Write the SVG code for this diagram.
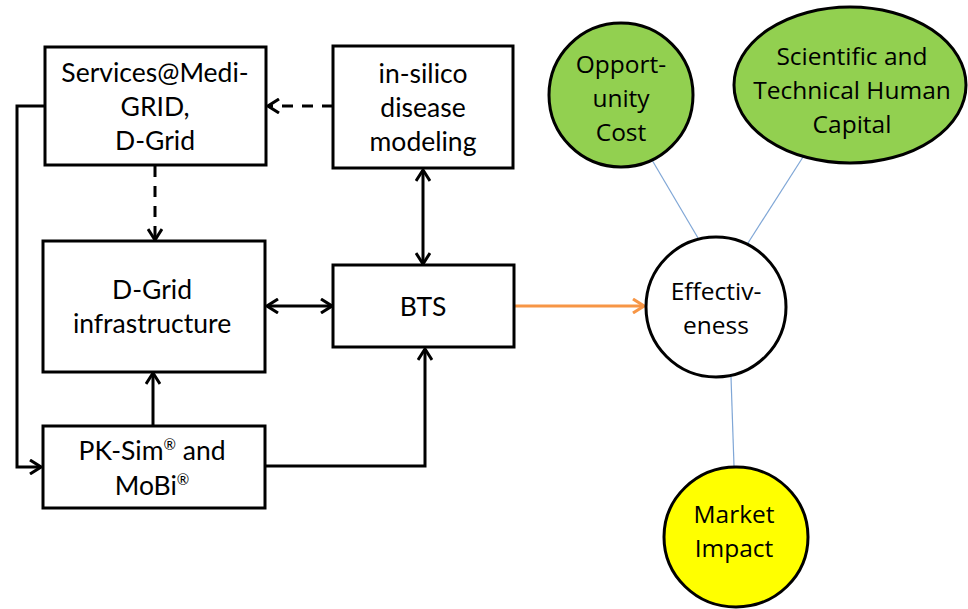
<svg xmlns="http://www.w3.org/2000/svg" width="968" height="609" viewBox="0 0 968 609">
<style>
.box{fill:#fff;stroke:#000;stroke-width:3}
.t{font-family:Lato,"Liberation Sans",sans-serif;font-size:26.5px;fill:#000;text-anchor:middle}
.e{font-family:"Open Sans","DejaVu Sans",sans-serif;font-size:24.5px;fill:#000;text-anchor:middle}
.c{fill:none;stroke:#000;stroke-width:3}
.d{fill:none;stroke:#000;stroke-width:3;stroke-dasharray:11 9}
.b{fill:none;stroke:#7fa6d6;stroke-width:1.2}
.sup{font-size:15px}
</style>
<defs>
<marker id="a" viewBox="0 0 13 16" refX="12" refY="8" markerWidth="13" markerHeight="16" markerUnits="userSpaceOnUse" orient="auto-start-reverse">
<path d="M1,1 L12,8 L1,15" fill="none" stroke="#000" stroke-width="3"/>
</marker>
<marker id="o" viewBox="0 0 13 16" refX="12" refY="8" markerWidth="13" markerHeight="16" markerUnits="userSpaceOnUse" orient="auto">
<path d="M1,1 L12,8 L1,15" fill="none" stroke="#f79646" stroke-width="3"/>
</marker>
</defs>
<g id="connectors">
<path class="c" d="M45,106 H17 V467 H41" marker-end="url(#a)"/>
<path class="d" d="M333,106 H268" marker-end="url(#a)"/>
<path class="d" d="M155,166 V240" marker-end="url(#a)"/>
<path class="c" d="M423,170 V264" marker-start="url(#a)" marker-end="url(#a)"/>
<path class="c" d="M267,306 H332" marker-start="url(#a)" marker-end="url(#a)"/>
<path class="c" d="M153,426 V373" marker-end="url(#a)"/>
<path class="c" d="M265,466 H425 V349" marker-end="url(#a)"/>
<path d="M515,306 H644" fill="none" stroke="#f79646" stroke-width="3" marker-end="url(#o)"/>
<path class="b" d="M652,160 L698,238"/>
<path class="b" d="M803,157 L748,243"/>
<path class="b" d="M731,377 L734,466"/>
</g>
<g id="services">
<rect class="box" x="45" y="47" width="221" height="118"/>
<text class="t" x="155" y="82">Services@Medi-</text>
<text class="t" x="155" y="116">GRID,</text>
<text class="t" x="155" y="150">D-Grid</text>
</g>
<g id="insilico">
<rect class="box" x="333" y="46" width="180" height="122"/>
<text class="t" x="423" y="83">in-silico</text>
<text class="t" x="423" y="117">disease</text>
<text class="t" x="423" y="151">modeling</text>
</g>
<g id="dgrid">
<rect class="box" x="43" y="241" width="222" height="131"/>
<text class="t" x="152" y="299">D-Grid</text>
<text class="t" x="152" y="333">infrastructure</text>
</g>
<g id="bts">
<rect class="box" x="333" y="265" width="181" height="82"/>
<text class="t" x="423" y="316">BTS</text>
</g>
<g id="pksim">
<rect class="box" x="43" y="426" width="222" height="82"/>
<text class="t" x="152" y="460">PK-Sim<tspan class="sup" dy="-10">®</tspan><tspan dy="10"> and</tspan></text>
<text class="t" x="152" y="495">MoBi<tspan class="sup" dy="-10">®</tspan></text>
</g>
<g id="opportunity">
<ellipse cx="621" cy="95" rx="72" ry="72" fill="#92d050" stroke="#000" stroke-width="3"/>
<text class="e" x="621" y="73">Opport-</text>
<text class="e" x="621" y="107">unity</text>
<text class="e" x="621" y="141">Cost</text>
</g>
<g id="scientific">
<ellipse cx="850" cy="85" rx="116" ry="78" fill="#92d050" stroke="#000" stroke-width="3"/>
<text class="e" x="852" y="65">Scientific and</text>
<text class="e" x="852" y="99">Technical Human</text>
<text class="e" x="852" y="133">Capital</text>
</g>
<g id="effectiveness">
<circle cx="716" cy="307" r="70" fill="#fff" stroke="#000" stroke-width="3"/>
<text class="e" x="716" y="300">Effectiv-</text>
<text class="e" x="716" y="334">eness</text>
</g>
<g id="market">
<ellipse cx="736" cy="537" rx="72" ry="70" fill="#ffff00" stroke="#000" stroke-width="3"/>
<text class="e" x="734" y="523">Market</text>
<text class="e" x="734" y="557">Impact</text>
</g>
</svg>
